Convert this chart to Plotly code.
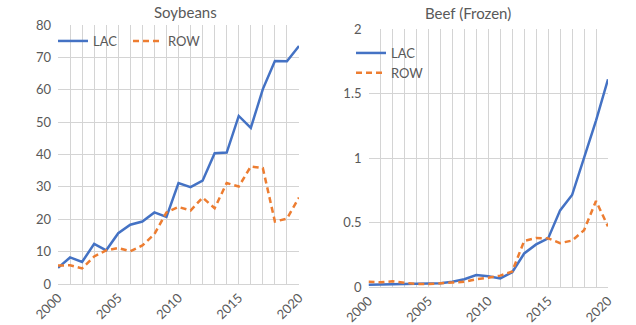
import plotly.graph_objects as go

years = list(range(2000, 2021))
soy_lac = [5.0, 8.2, 6.8, 12.4, 10.4, 15.7, 18.3, 19.3, 22.1, 20.7, 31.2, 29.9, 31.9, 40.4, 40.6, 51.9, 48.2, 60.2, 68.9, 68.8, 73.5]
soy_row = [5.7, 5.8, 4.8, 8.5, 10.4, 11.1, 10.1, 11.9, 15.4, 22.1, 23.8, 22.7, 26.7, 23.4, 31.2, 30.1, 36.3, 35.8, 19.3, 20.2, 26.7]
beef_lac = [0.018, 0.02, 0.022, 0.026, 0.03, 0.03, 0.03, 0.04, 0.06, 0.093, 0.083, 0.067, 0.114, 0.26, 0.33, 0.377, 0.594, 0.713, 1.0, 1.29, 1.61]
beef_row = [0.04, 0.036, 0.044, 0.036, 0.023, 0.023, 0.026, 0.034, 0.04, 0.06, 0.072, 0.088, 0.12, 0.357, 0.38, 0.377, 0.34, 0.36, 0.44, 0.667, 0.47]
titles = ["Soybeans", "Beef (Frozen)"]
x_labels = [str(y) if y % 5 == 0 else "" for y in years]

BLUE = "#4472C4"
ORANGE = "#ED7D31"
GRID = "#D4D4D4"
TXT = "#595959"
FONT = "Lato"

fig = go.Figure()
fig.add_trace(go.Scatter(x=years, y=soy_lac, name="LAC", mode="lines",
                         line=dict(color=BLUE, width=2.5), xaxis="x", yaxis="y", legend="legend"))
fig.add_trace(go.Scatter(x=years, y=soy_row, name="ROW", mode="lines",
                         line=dict(color=ORANGE, width=2.5, dash="6px,4px"), xaxis="x", yaxis="y", legend="legend"))
fig.add_trace(go.Scatter(x=years, y=beef_lac, name="LAC", mode="lines",
                         line=dict(color=BLUE, width=2.5), xaxis="x2", yaxis="y2", legend="legend2"))
fig.add_trace(go.Scatter(x=years, y=beef_row, name="ROW", mode="lines",
                         line=dict(color=ORANGE, width=2.5, dash="6px,4px"), xaxis="x2", yaxis="y2", legend="legend2"))

W, H = 636, 325
def px(x):
    return x / W
def py(y):
    return 1 - y / H

tickfont = dict(family=FONT, size=13, color=TXT)
xcommon = dict(range=[2000, 2020], tickmode="array", tickvals=years, ticktext=x_labels,
               tickangle=-45, showgrid=True, gridcolor=GRID, gridwidth=1.2,
               showline=True, linecolor=GRID, linewidth=1.2, ticks="", zeroline=False,
               tickfont=tickfont, automargin=False, fixedrange=True)
ycommon = dict(showgrid=True, gridcolor=GRID, gridwidth=1.2, zeroline=False, showline=False,
               tickfont=tickfont, ticklabelstandoff=6, automargin=False, fixedrange=True)

fig.update_layout(
    width=W, height=H,
    margin=dict(l=0, r=0, t=0, b=0, autoexpand=False),
    paper_bgcolor="white", plot_bgcolor="white",
    font=dict(family=FONT, color=TXT),
    xaxis=dict(domain=[px(58), px(299)], anchor="y", **xcommon),
    yaxis=dict(domain=[py(284), py(25)], range=[0, 80], dtick=10, anchor="x", **ycommon),
    xaxis2=dict(domain=[px(368.5), px(608)], anchor="y2", **xcommon),
    yaxis2=dict(domain=[py(287), py(29)], range=[0, 2], tickmode="array",
                tickvals=[0, 0.5, 1, 1.5, 2], ticktext=["0", "0.5", "1", "1.5", "2"],
                anchor="x2", **ycommon),
    legend=dict(orientation="h", x=px(53), y=py(26), xanchor="left", yanchor="top",
                bgcolor="rgba(255,255,255,0)", font=dict(family=FONT, size=13, color=TXT),
                itemwidth=30, entrywidth=30, tracegroupgap=0),
    legend2=dict(orientation="v", x=px(351), y=py(38), xanchor="left", yanchor="top",
                 bgcolor="rgba(255,255,255,0)", font=dict(family=FONT, size=13, color=TXT),
                 itemwidth=30, tracegroupgap=0),
    showlegend=True,
    annotations=[
        dict(text=titles[0], x=px(185), y=py(12), xref="paper", yref="paper",
             xanchor="center", yanchor="middle",
             showarrow=False, font=dict(family=FONT, size=15, color=TXT)),
        dict(text=titles[1], x=px(468), y=py(13), xref="paper", yref="paper",
             xanchor="center", yanchor="middle",
             showarrow=False, font=dict(family=FONT, size=15, color=TXT)),
    ],
    shapes=[
        dict(type="rect", xref="paper", yref="paper", x0=px(63), x1=px(167), y0=py(77), y1=py(28),
             fillcolor="white", line=dict(width=0), layer="between"),
        dict(type="rect", xref="paper", yref="paper", x0=px(370), x1=px(418), y0=py(74), y1=py(43),
             fillcolor="white", line=dict(width=0), layer="between"),
    ],
)

fig.write_html("out.html")
